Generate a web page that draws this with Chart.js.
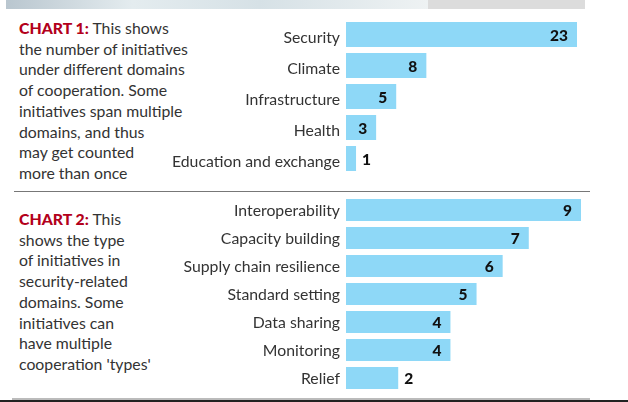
<!DOCTYPE html>
<html>
<head>
<meta charset="utf-8">
<script src="https://cdn.jsdelivr.net/npm/chart.js@4.4.1/dist/chart.umd.min.js"></script>
<style>
  body { margin: 0; width: 628px; height: 402px; background: #fff; position: relative; overflow: hidden;
         font-family: Lato, "Open Sans", sans-serif; color: #333; }
  .photo { position: absolute; left: 6px; top: 0; width: 422px; height: 9px;
           background: linear-gradient(90deg, #b9c6cf, #e4ecef 30%, #d6e1e6 60%, #eef2f3); }
  .grey { position: absolute; left: 428px; top: 0; width: 157px; height: 9px; background: #dcdcdc; }
  .note { position: absolute; left: 19px; font-size: 15.8px; line-height: 20.7px; color: #333; white-space: nowrap; }
  .note b { color: #b3001b; font-weight: 900; }
  .rule { position: absolute; left: 14px; width: 576px; height: 1px; background: #777; }
  .bottom { position: absolute; left: 0; top: 400px; width: 628px; height: 2px; background: #222; }
  .box { position: absolute; left: 0; }
</style>
</head>
<body>
<div class="photo"></div>
<div class="grey"></div>

<div class="note" style="top:18px"><b>CHART 1:</b> This shows<br>the number of initiatives<br>under different domains<br>of cooperation. Some<br>initiatives span multiple<br>domains, and thus<br>may get counted<br>more than once</div>
<div class="rule" style="top:191px"></div>
<div class="note" style="top:209px"><b>CHART 2:</b> This<br>shows the type<br>of initiatives in<br>security-related<br>domains. Some<br>initiatives can<br>have multiple<br>cooperation 'types'</div>
<div class="rule" style="top:398px;left:12px;width:578px;height:2px;background:#bbb"></div>
<div class="bottom"></div>

<div class="box" style="top:19px;width:577px;height:155px"><canvas id="c1"></canvas></div>
<div class="box" style="top:196px;width:581px;height:196px"><canvas id="c2"></canvas></div>

<script>
const domains = ['Security', 'Climate', 'Infrastructure', 'Health', 'Education and exchange'];
const domainCounts = [23, 8, 5, 3, 1];

const types = ['Interoperability', 'Capacity building', 'Supply chain resilience', 'Standard setting',
               'Data sharing', 'Monitoring', 'Relief'];
const typeCounts = [9, 7, 6, 5, 4, 4, 2];

const BAR_COLOR = '#8ed8f7';
const FONT = 'Lato, "Open Sans", sans-serif';

// value labels: inside the bar end, or just outside for small bars
const valueLabels = {
  id: 'valueLabels',
  afterDatasetsDraw(chart) {
    const ctx = chart.ctx;
    const meta = chart.getDatasetMeta(0);
    const data = chart.data.datasets[0].data;
    ctx.save();
    ctx.font = `900 15.5px ${FONT}`;
    ctx.fillStyle = '#111';
    ctx.textBaseline = 'middle';
    meta.data.forEach((bar, i) => {
      if (data[i] <= 2) {
        ctx.textAlign = 'left';
        ctx.fillText(data[i], bar.x + 6, bar.y + 1);
      } else {
        ctx.textAlign = 'right';
        ctx.fillText(data[i], bar.x - 9, bar.y + 1);
      }
    });
    ctx.restore();
  },
};

function hbar(id, labels, values, max, barPct, axisWidth, labelShift) {
  return new Chart(document.getElementById(id), {
    type: 'bar',
    data: {
      labels,
      datasets: [{
        data: values,
        backgroundColor: BAR_COLOR,
        borderWidth: 0,
        barPercentage: barPct,
        categoryPercentage: 1,
      }],
    },
    options: {
      indexAxis: 'y',
      responsive: true,
      maintainAspectRatio: false,
      animation: false,
      layout: { padding: 0 },
      plugins: { legend: { display: false }, tooltip: { enabled: false } },
      scales: {
        x: { display: false, min: 0, max },
        y: {
          grid: { display: false, drawTicks: false },
          border: { display: false },
          ticks: { color: '#333', font: { family: FONT, size: 15.8 }, padding: 6, labelOffset: labelShift },
          afterFit(scale) {
            scale.width = axisWidth;
            scale.paddingTop = 0;
            scale.paddingBottom = 0;
          },
        },
      },
    },
    plugins: [valueLabels],
  });
}

hbar('c1', domains, domainCounts, 23, 0.806, 346, 3);
hbar('c2', types, typeCounts, 9, 0.786, 346, 1);
</script>
</body>
</html>
